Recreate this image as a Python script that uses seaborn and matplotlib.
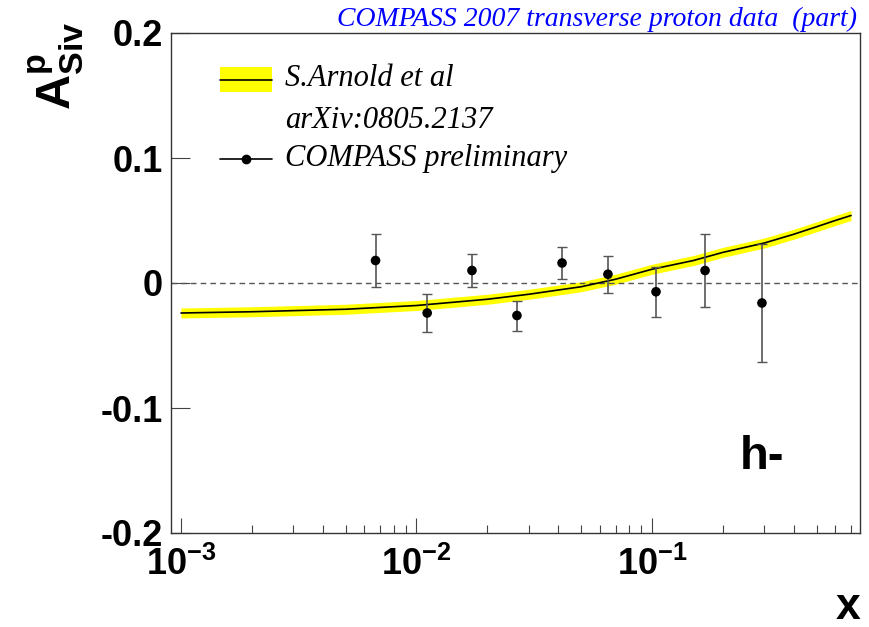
import numpy as np
import pandas as pd
import matplotlib
matplotlib.use("Agg")
import matplotlib.pyplot as plt
import seaborn as sns
from matplotlib.patches import Rectangle
from matplotlib.lines import Line2D
from matplotlib.ticker import LogLocator, NullLocator, FixedLocator, FixedFormatter

# ---------------- data ----------------
theory_x = [0.001, 0.002, 0.005, 0.01, 0.02, 0.03, 0.05, 0.07, 0.1, 0.15, 0.2, 0.3, 0.4, 0.5, 0.6, 0.7]
theory_y = [-0.024, -0.023, -0.021, -0.018, -0.013, -0.009, -0.003, 0.003, 0.011, 0.018, 0.0245, 0.032, 0.039, 0.045, 0.050, 0.054]
band_lo = [-0.028, -0.027, -0.025, -0.022, -0.017, -0.013, -0.007, -0.001, 0.007, 0.014, 0.0205, 0.028, 0.035, 0.041, 0.046, 0.050]
band_hi = [-0.020, -0.019, -0.017, -0.014, -0.009, -0.005, 0.001, 0.007, 0.015, 0.022, 0.0285, 0.036, 0.043, 0.049, 0.054, 0.058]

data_x = [0.0067, 0.0111, 0.0172, 0.0267, 0.0415, 0.065, 0.104, 0.168, 0.293]
data_y = [0.018, -0.024, 0.010, -0.026, 0.016, 0.007, -0.007, 0.010, -0.016]
data_err = [0.021, 0.015, 0.013, 0.012, 0.013, 0.015, 0.020, 0.029, 0.047]

ytick_vals = [-0.2, -0.1, 0.0, 0.1, 0.2]
ytick_labels = ["-0.2", "-0.1", "0", "0.1", "0.2"]
xtick_vals = [1e-3, 1e-2, 1e-1]
xtick_labels = [r"$\mathbf{10^{-3}}$", r"$\mathbf{10^{-2}}$", r"$\mathbf{10^{-1}}$"]

title_text = "COMPASS 2007 transverse proton data  (part)"
legend_theory = ["S.Arnold et al", "arXiv:0805.2137"]
legend_data = "COMPASS preliminary"
panel_label = "h-"

# ---------------- style ----------------
sns.set_theme(style="white")
plt.rcParams["font.family"] = ["Liberation Sans", "DejaVu Sans"]
plt.rcParams["mathtext.fontset"] = "custom"
plt.rcParams["mathtext.rm"] = "Liberation Sans"
plt.rcParams["mathtext.bf"] = "Liberation Sans:bold"
plt.rcParams["mathtext.it"] = "Liberation Sans:italic"
for k in ["text.color", "axes.labelcolor", "xtick.color", "ytick.color"]:
    plt.rcParams[k] = "black"

W, H = 869, 627
fig = plt.figure(figsize=(W / 100, H / 100), dpi=100)
L, R, T, B = 171, 860, 33, 533
ax = fig.add_axes([L / W, 1 - B / H, (R - L) / W, (B - T) / H])
ax.set_facecolor("white")

def fx(px):
    return px / W

def fy(py):
    return 1 - py / H

# band + theory line
ax.fill_between(theory_x, band_lo, band_hi, color="#ffff00", lw=0, zorder=1)
sns.lineplot(x=theory_x, y=theory_y, ax=ax, color="black", lw=1.2, zorder=2, sort=True)

# zero line
ax.axhline(0, color="#555555", lw=1.0, ls=(0, (4, 3)), zorder=1.5)

# data
ax.errorbar(data_x, data_y, yerr=data_err, fmt="none", ecolor="#555555",
            elinewidth=1.2, capsize=3.5, capthick=1.0, zorder=3)
sns.scatterplot(x=data_x, y=data_y, ax=ax, color="black", s=48, edgecolor="none", zorder=4)

ax.set_xscale("log")
ax.set_xlim(10 ** (-3 + (L - 181) / 235.5), 10 ** (-3 + (R - 181) / 235.5))
ax.set_ylim(-0.2, 0.2)

ax.yaxis.set_major_locator(FixedLocator(ytick_vals))
ax.yaxis.set_major_formatter(FixedFormatter(ytick_labels))
ax.yaxis.set_minor_locator(NullLocator())
ax.xaxis.set_major_locator(FixedLocator(xtick_vals))
ax.xaxis.set_major_formatter(FixedFormatter(xtick_labels))
ax.xaxis.set_minor_locator(LogLocator(base=10, subs=np.arange(2, 10)))
ax.xaxis.set_minor_formatter(matplotlib.ticker.NullFormatter())

ax.tick_params(axis="y", which="major", direction="in", length=14, width=0.8,
               color="#444444", labelcolor="black", labelsize=26, pad=6, left=True, right=False)
ax.tick_params(axis="x", which="major", direction="in", length=11, width=0.8,
               color="#444444", labelcolor="black", labelsize=26, pad=10, bottom=True, top=False)
ax.tick_params(axis="x", which="minor", direction="in", length=5.5, width=0.8,
               color="#444444", bottom=True, top=False)
for lab in ax.get_yticklabels():
    lab.set_fontweight("bold")

for s in ax.spines.values():
    s.set_visible(True)
    s.set_color("#333333")
    s.set_linewidth(1.0)

ax.set_xlabel("")
ax.set_ylabel("")

# title
fig.text(fx(857), fy(19), title_text, color="#0000ff", fontsize=20,
         family=["Liberation Serif"], style="italic", ha="right", va="center")

# axis labels
fig.text(fx(56), fy(22), r"$\mathbf{A^{p}_{Siv}}$", rotation=90, fontsize=35,
         ha="center", va="top", color="black")
fig.text(fx(860), fy(619), "x", fontsize=32, fontweight="bold", ha="right", va="baseline",
         color="black")

# panel label
fig.text(fx(762), fy(469), panel_label, fontsize=34, fontweight="bold", ha="center",
         va="baseline", color="black")

# legend
fig.patches.append(Rectangle((fx(220), fy(92)), fx(272) - fx(220), fy(67) - fy(92),
                             transform=fig.transFigure, facecolor="#ffff00", edgecolor="none"))
fig.lines.append(Line2D([fx(220), fx(272)], [fy(80), fy(80)], transform=fig.transFigure,
                        color="black", lw=1.2))
fig.lines.append(Line2D([fx(220), fx(272)], [fy(159), fy(159)], transform=fig.transFigure,
                        color="black", lw=1.2))
fig.lines.append(Line2D([fx(246)], [fy(159)], transform=fig.transFigure, marker="o",
                        markersize=6, color="black", lw=0))
for txt, py in [(legend_theory[0], 79), (legend_theory[1], 121), (legend_data, 158)]:
    fig.text(fx(285), fy(py), txt, fontsize=22, family=["Liberation Serif"],
             style="italic", ha="left", va="center", color="black")

fig.savefig("out.png", dpi=100, facecolor="white")
